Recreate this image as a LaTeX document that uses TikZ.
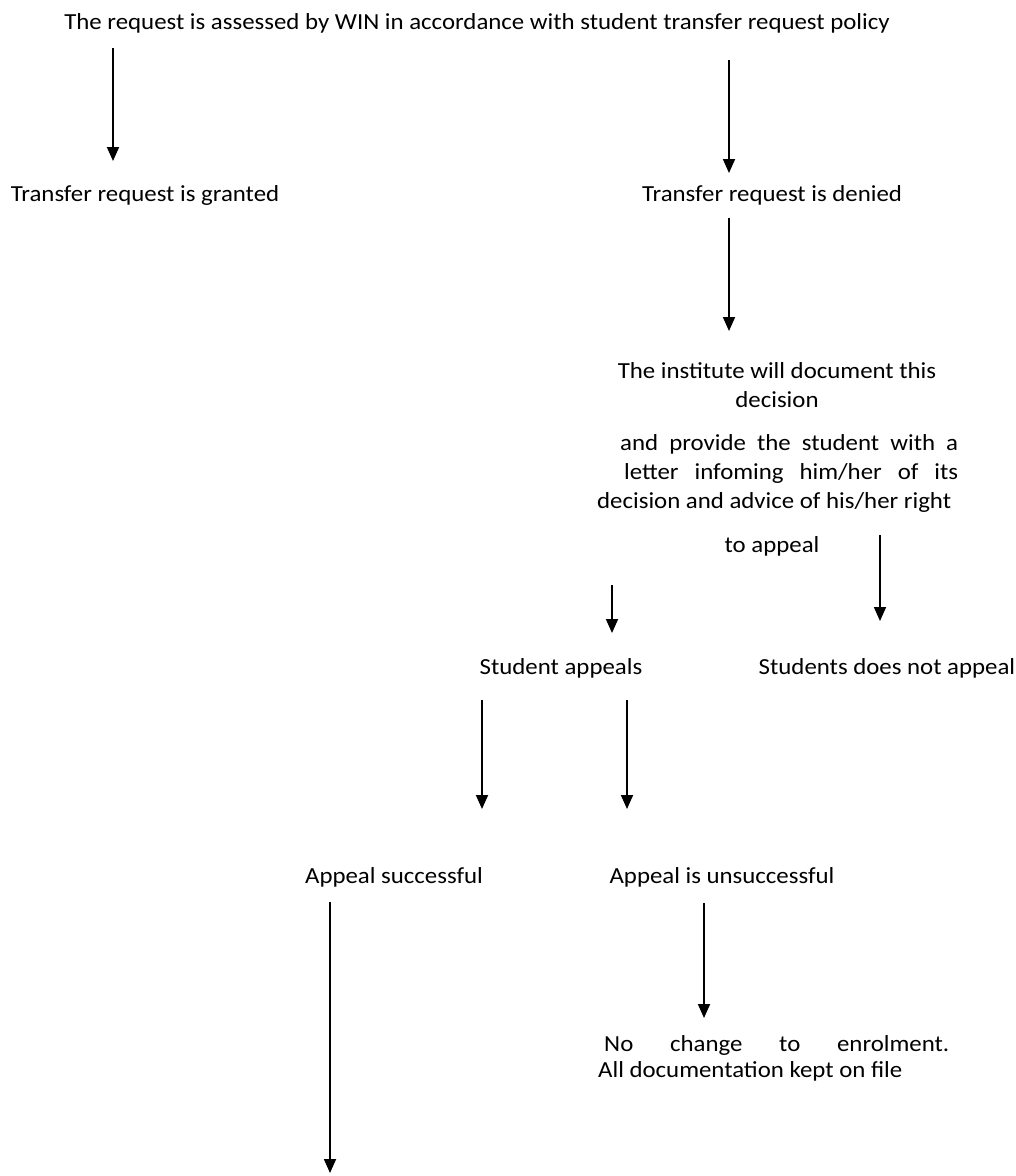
\documentclass[tikz,border=0pt]{standalone}
\usepackage{fontspec}
\setmainfont{Carlito}[FakeStretch=1.08]
\usetikzlibrary{arrows.meta}
\begin{document}
\begin{tikzpicture}[x=1pt,y=-1pt,
  lbl/.style={inner sep=0pt, anchor=base, font=\fontsize{23}{29}\selectfont, text=black},
  arr/.style={line width=1.8pt, -{Triangle[width=12pt,length=14pt]}}]
\useasboundingbox (0,0) rectangle (1016,1176);
\fill[white] (0,0) rectangle (1016,1176);
% texts (multi-line nodes: base = baseline of last line)
\node[lbl] (top) at (477,29) {The request is assessed by WIN in accordance with student transfer request policy};
\node[lbl] (granted) at (145,201) {Transfer request is granted};
\node[lbl] (denied) at (772,201) {Transfer request is denied};
\node[lbl, align=center] (instA) at (777,407) {The institute will document this\\decision};
\node[lbl, anchor=base west, align=left] (instB) at (597,508) {\hspace*{23pt}\makebox[338pt][s]{and provide the student with a}\\\hspace*{27pt}\makebox[334pt][s]{letter infoming him/her of its}\\decision and advice of his/her right};
\node[lbl] (toappeal) at (772,552) {to appeal};
\node[lbl] (appeals) at (561,674) {Student appeals};
\node[lbl] (noappeal) at (887,674) {Students does not appeal};
\node[lbl] (success) at (394,883) {Appeal successful};
\node[lbl] (unsuccess) at (722,883) {Appeal is unsuccessful};
\node[lbl, anchor=base west, align=left, font=\fontsize{23}{26}\selectfont] (nochange) at (598,1077) {\hspace*{6pt}\makebox[345pt][s]{No change to enrolment.}\\All documentation kept on file};
% arrow end points
\coordinate (a1s) at (113,48);  \coordinate (a1e) at (113,161);
\coordinate (a2s) at (729,60);  \coordinate (a2e) at (729,173);
\coordinate (a3s) at (729,218); \coordinate (a3e) at (729,331);
\coordinate (a4s) at (612,585); \coordinate (a4e) at (612,633);
\coordinate (a5s) at (880,535); \coordinate (a5e) at (880,621);
\coordinate (a6s) at (482,700); \coordinate (a6e) at (482,809);
\coordinate (a7s) at (627,700); \coordinate (a7e) at (627,809);
\coordinate (a8s) at (704,903); \coordinate (a8e) at (704,1018);
\coordinate (a9s) at (330,902); \coordinate (a9e) at (330,1173);
\foreach \i in {1,...,9} {\draw[arr] (a\i s) -- (a\i e);}
\end{tikzpicture}
\end{document}
